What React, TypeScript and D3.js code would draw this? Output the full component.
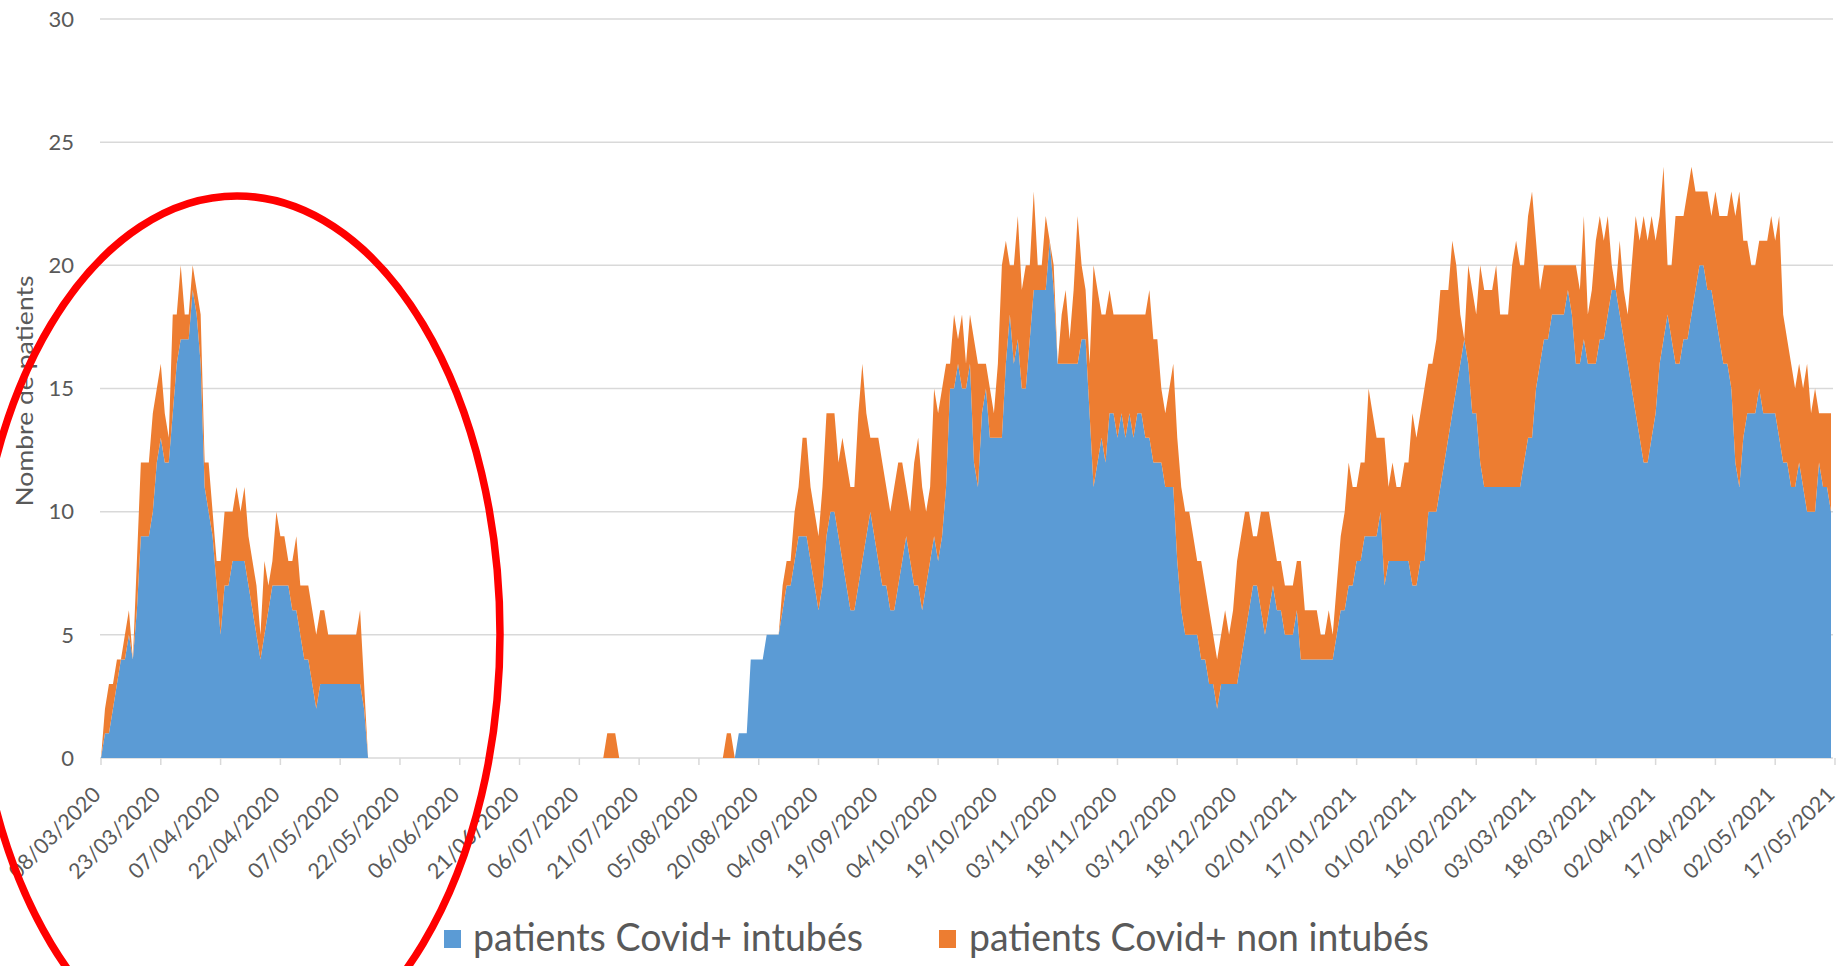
import React from 'react';
import * as d3 from 'd3';

// Tick labels (one every 15 days, from 08/03/2020 to 17/05/2021)
const tickLabels = [
  '08/03/2020', '23/03/2020', '07/04/2020', '22/04/2020', '07/05/2020', '22/05/2020',
  '06/06/2020', '21/06/2020', '06/07/2020', '21/07/2020', '05/08/2020', '20/08/2020',
  '04/09/2020', '19/09/2020', '04/10/2020', '19/10/2020', '03/11/2020', '18/11/2020',
  '03/12/2020', '18/12/2020', '02/01/2021', '17/01/2021', '01/02/2021', '16/02/2021',
  '03/03/2021', '18/03/2021', '02/04/2021', '17/04/2021', '02/05/2021', '17/05/2021',
];
const tickStepDays = 15;

const yTicks = [0, 5, 10, 15, 20, 25, 30];

// Daily values, 08/03/2020 -> 17/05/2021
const intubes = [
  0, 1, 1, 2, 3, 4, 4, 5, 4, 6,
  9, 9, 9, 10, 12, 13, 12, 12, 14, 16,
  17, 17, 17, 19, 18, 16, 11, 10, 9, 7,
  5, 7, 7, 8, 8, 8, 8, 7, 6, 5,
  4, 5, 6, 7, 7, 7, 7, 7, 6, 6,
  5, 4, 4, 3, 2, 3, 3, 3, 3, 3,
  3, 3, 3, 3, 3, 3, 2, 0, 0, 0,
  0, 0, 0, 0, 0, 0, 0, 0, 0, 0,
  0, 0, 0, 0, 0, 0, 0, 0, 0, 0,
  0, 0, 0, 0, 0, 0, 0, 0, 0, 0,
  0, 0, 0, 0, 0, 0, 0, 0, 0, 0,
  0, 0, 0, 0, 0, 0, 0, 0, 0, 0,
  0, 0, 0, 0, 0, 0, 0, 0, 0, 0,
  0, 0, 0, 0, 0, 0, 0, 0, 0, 0,
  0, 0, 0, 0, 0, 0, 0, 0, 0, 0,
  0, 0, 0, 0, 0, 0, 0, 0, 0, 0,
  1, 1, 1, 4, 4, 4, 4, 5, 5, 5,
  5, 6, 7, 7, 8, 9, 9, 9, 8, 7,
  6, 7, 9, 10, 10, 9, 8, 7, 6, 6,
  7, 8, 9, 10, 9, 8, 7, 7, 6, 6,
  7, 8, 9, 8, 7, 7, 6, 7, 8, 9,
  8, 9, 11, 15, 15, 16, 15, 15, 16, 12,
  11, 14, 15, 13, 13, 13, 13, 16, 18, 16,
  17, 15, 15, 17, 19, 19, 19, 19, 21, 19,
  16, 16, 16, 16, 16, 16, 17, 17, 14, 11,
  12, 13, 12, 14, 14, 13, 14, 13, 14, 13,
  14, 14, 13, 13, 12, 12, 12, 11, 11, 11,
  8, 6, 5, 5, 5, 5, 4, 4, 3, 3,
  2, 3, 3, 3, 3, 3, 4, 5, 6, 7,
  7, 6, 5, 6, 7, 6, 6, 5, 5, 5,
  6, 4, 4, 4, 4, 4, 4, 4, 4, 4,
  5, 6, 6, 7, 7, 8, 8, 9, 9, 9,
  9, 10, 7, 8, 8, 8, 8, 8, 8, 7,
  7, 8, 8, 10, 10, 10, 11, 12, 13, 14,
  15, 16, 17, 16, 14, 14, 12, 11, 11, 11,
  11, 11, 11, 11, 11, 11, 11, 12, 13, 13,
  15, 16, 17, 17, 18, 18, 18, 18, 19, 18,
  16, 16, 17, 16, 16, 16, 17, 17, 18, 19,
  19, 18, 17, 16, 15, 14, 13, 12, 12, 13,
  14, 16, 17, 18, 17, 16, 16, 17, 17, 18,
  19, 20, 20, 19, 19, 18, 17, 16, 16, 15,
  12, 11, 13, 14, 14, 14, 15, 14, 14, 14,
  14, 13, 12, 12, 11, 11, 12, 11, 10, 10,
  10, 12, 11, 11, 10,
];

const nonIntubes = [
  0, 1, 2, 1, 1, 0, 1, 1, 0, 2,
  3, 3, 3, 4, 3, 3, 2, 1, 4, 2,
  3, 1, 1, 1, 1, 2, 1, 2, 1, 1,
  3, 3, 3, 2, 3, 2, 3, 2, 2, 2,
  1, 3, 1, 1, 3, 2, 2, 1, 2, 3,
  2, 3, 3, 3, 3, 3, 3, 2, 2, 2,
  2, 2, 2, 2, 2, 3, 1, 0, 0, 0,
  0, 0, 0, 0, 0, 0, 0, 0, 0, 0,
  0, 0, 0, 0, 0, 0, 0, 0, 0, 0,
  0, 0, 0, 0, 0, 0, 0, 0, 0, 0,
  0, 0, 0, 0, 0, 0, 0, 0, 0, 0,
  0, 0, 0, 0, 0, 0, 0, 0, 0, 0,
  0, 0, 0, 0, 0, 0, 0, 1, 1, 1,
  0, 0, 0, 0, 0, 0, 0, 0, 0, 0,
  0, 0, 0, 0, 0, 0, 0, 0, 0, 0,
  0, 0, 0, 0, 0, 0, 0, 1, 1, 0,
  0, 0, 0, 0, 0, 0, 0, 0, 0, 0,
  0, 1, 1, 1, 2, 2, 4, 4, 3, 3,
  3, 4, 5, 4, 4, 3, 5, 5, 5, 5,
  7, 8, 5, 3, 4, 5, 5, 4, 4, 5,
  5, 4, 2, 2, 5, 6, 5, 3, 3, 6,
  6, 6, 5, 1, 3, 1, 3, 1, 2, 5,
  5, 2, 1, 2, 1, 3, 7, 5, 2, 4,
  5, 4, 5, 3, 4, 1, 1, 3, 0, 1,
  0, 2, 3, 1, 3, 6, 3, 2, 2, 9,
  7, 5, 6, 5, 4, 5, 4, 5, 4, 5,
  4, 4, 5, 6, 5, 5, 3, 3, 4, 5,
  5, 5, 5, 5, 4, 3, 4, 3, 3, 2,
  2, 2, 3, 2, 3, 5, 5, 5, 4, 2,
  2, 4, 5, 4, 2, 2, 2, 2, 2, 2,
  2, 4, 2, 2, 2, 2, 1, 1, 2, 1,
  2, 3, 4, 5, 4, 3, 4, 3, 6, 5,
  4, 3, 6, 3, 4, 3, 3, 4, 4, 7,
  6, 6, 7, 6, 6, 7, 8, 7, 6, 7,
  5, 2, 0, 4, 5, 4, 8, 8, 8, 8,
  9, 7, 7, 7, 9, 10, 9, 8, 9, 10,
  6, 3, 3, 3, 2, 2, 2, 2, 1, 2,
  4, 3, 5, 2, 3, 5, 5, 4, 4, 1,
  0, 3, 2, 2, 5, 8, 8, 10, 9, 9,
  7, 6, 7, 2, 3, 6, 6, 5, 6, 6,
  4, 3, 3, 4, 3, 5, 5, 6, 6, 8,
  10, 12, 8, 7, 6, 6, 6, 7, 7, 8,
  7, 9, 6, 5, 5, 4, 4, 4, 6, 4,
  5, 2, 3, 3, 4,
];

const seriesNames = ['patients Covid+ intubés', 'patients Covid+ non intubés'];
const seriesColors = ['#5B9BD5', '#ED7D31'];

export default function App() {
  const W = 1840;
  const H = 966;
  const x = d3.scaleLinear().domain([0, intubes.length - 1]).range([101, 1831]);
  const y = d3.scaleLinear().domain([0, 30]).range([758, 19]);

  const rows = intubes.map((v, i) => ({ i, a: v, b: nonIntubes[i] }));
  const stacked = d3.stack<any>().keys(['a', 'b'])(rows);
  const area = d3
    .area<any>()
    .x((d: any) => x(d.data.i))
    .y0((d: any) => y(d[0]))
    .y1((d: any) => y(d[1]))
    .curve(d3.curveLinear);

  const font = 'Lato, "Open Sans", sans-serif';
  const textColor = '#595959';

  return (
    <div style={{ position: 'absolute', left: 0, top: 0, width: W, height: H, background: '#fff' }}>
      <svg width={W} height={H} viewBox={`0 0 ${W} ${H}`} style={{ display: 'block' }}>
        <rect x={0} y={0} width={W} height={H} fill="#fff" />
        {/* gridlines */}
        {yTicks.map((t) => (
          <line key={'g' + t} x1={100} x2={1833} y1={y(t)} y2={y(t)} stroke="#d9d9d9" strokeWidth={1.5} />
        ))}
        {/* y labels */}
        {yTicks.map((t) => (
          <text
            key={'yl' + t}
            x={74}
            y={y(t)}
            dy="0.35em"
            textAnchor="end"
            fontFamily={font}
            fontSize={22}
            fill={textColor}
          >
            {t}
          </text>
        ))}
        {/* areas */}
        {stacked.map((s, k) => (
          <path key={'a' + k} d={area(s as any) || ''} fill={seriesColors[k]} />
        ))}
        {/* x axis ticks */}
        {tickLabels.map((lab, k) => {
          const xx = x(k * tickStepDays);
          return <line key={'t' + k} x1={xx} x2={xx} y1={758} y2={765} stroke="#d9d9d9" strokeWidth={1.5} />;
        })}
        {/* x labels */}
        {tickLabels.map((lab, k) => {
          const xx = x(k * tickStepDays) + 1;
          const yy = 796;
          return (
            <text
              key={'xl' + k}
              x={xx}
              y={yy}
              transform={`rotate(-45 ${xx} ${yy})`}
              textAnchor="end"
              fontFamily={font}
              fontSize={21.5}
              fill={textColor}
            >
              {lab}
            </text>
          );
        })}
        {/* axis title */}
        <text
          x={33}
          y={391}
          transform="rotate(-90 33 391)"
          textAnchor="middle"
          fontFamily={font}
          fontSize={23}
          fill={textColor}
          textLength={231}
          lengthAdjust="spacingAndGlyphs"
        >
          Nombre de patients
        </text>
        {/* legend */}
        <rect x={444} y={930} width={17} height={18} fill={seriesColors[0]} />
        <text x={473} y={951} fontFamily={font} fontSize={38} fill={textColor} textLength={390} lengthAdjust="spacingAndGlyphs">
          {seriesNames[0]}
        </text>
        <rect x={939} y={930} width={17} height={18} fill={seriesColors[1]} />
        <text x={969} y={951} fontFamily={font} fontSize={38} fill={textColor} textLength={460} lengthAdjust="spacingAndGlyphs">
          {seriesNames[1]}
        </text>
        {/* red annotation ellipse */}
        <ellipse cx={237} cy={634} rx={263} ry={438} fill="none" stroke="#ff0000" strokeWidth={7.5} />
      </svg>
    </div>
  );
}
